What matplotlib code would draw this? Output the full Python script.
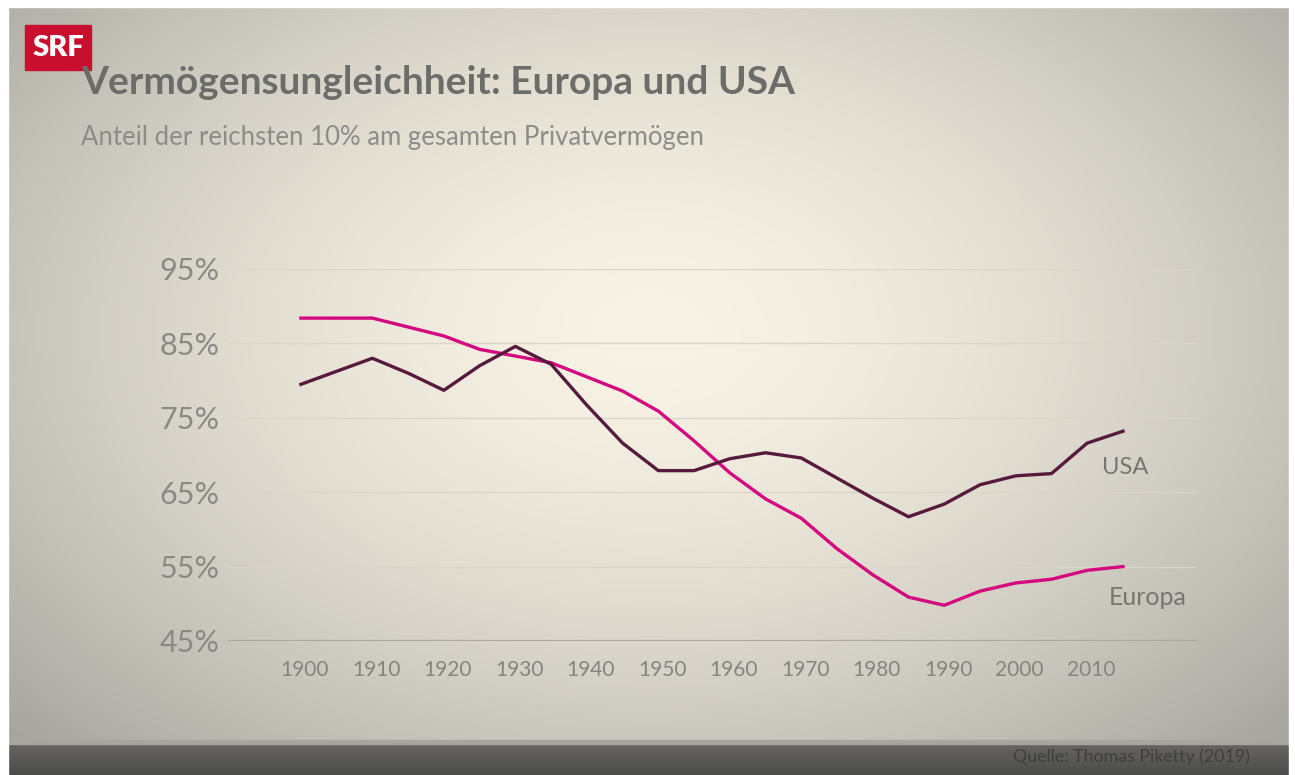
import numpy as np
import matplotlib
matplotlib.use("Agg")
import matplotlib.pyplot as plt
from matplotlib.patches import Rectangle
from matplotlib.transforms import ScaledTranslation

# ---- data ----
years = [1900, 1910, 1915, 1920, 1925, 1930, 1935, 1940, 1945, 1950, 1955, 1960,
         1965, 1970, 1975, 1980, 1985, 1990, 1995, 2000, 2005, 2010, 2015]
usa = [79.5, 83.0, 81.0, 78.7, 82.0, 84.6, 82.2, 76.7, 71.6, 67.9, 67.9, 69.5,
       70.3, 69.6, 66.9, 64.2, 61.7, 63.4, 66.0, 67.2, 67.5, 71.6, 73.2]
europa = [88.4, 88.4, 87.2, 86.0, 84.2, 83.3, 82.4, 80.5, 78.6, 75.9, 71.9, 67.6,
          64.1, 61.5, 57.4, 53.9, 50.9, 49.8, 51.7, 52.8, 53.3, 54.5, 55.0]
yticks = [45, 55, 65, 75, 85, 95]
ytick_labels = ["45%", "55%", "65%", "75%", "85%", "95%"]
xticks = [1900, 1910, 1920, 1930, 1940, 1950, 1960, 1970, 1980, 1990, 2000, 2010]
xtick_labels = [str(x) for x in xticks]

title = "Vermögensungleichheit: Europa und USA"
subtitle = "Anteil der reichsten 10% am gesamten Privatvermögen"
source = "Quelle: Thomas Piketty (2019)"

W, H = 1295, 775
fig = plt.figure(figsize=(W / 100, H / 100), dpi=100)

FONT = ["Lato", "DejaVu Sans"]

# ---- background radial gradient ----
bg = fig.add_axes([0, 0, 1, 1])
bg.set_xlim(0, W)
bg.set_ylim(H, 0)
bg.axis("off")
yy, xx = np.mgrid[0:H, 0:W]
d = np.sqrt(((xx - 650) / 780.0) ** 2 + ((yy - 330) / 520.0) ** 2)
t = np.clip(d, 0, 1.25) / 1.25
t = t ** 1.6
c0 = np.array([0xf8, 0xf3, 0xe5]) / 255.0
c1 = np.array([0x98, 0x97, 0x92]) / 255.0
img = c0[None, None, :] * (1 - t[..., None]) + c1[None, None, :] * t[..., None]
bg.imshow(img, extent=[0, W, H, 0], aspect="auto", zorder=0)

# bottom bar
bar = np.linspace(0, 1, 31)[:, None, None]
top_c = np.array([0x66, 0x65, 0x62]) / 255.0
bot_c = np.array([0x4c, 0x4c, 0x4a]) / 255.0
bar_img = top_c * (1 - bar) + bot_c * bar
bar_img = np.repeat(bar_img, 2, axis=1)
bg.imshow(bar_img, extent=[8, W, 775, 744], aspect="auto", zorder=1)
bg.add_patch(Rectangle((8, 740), W, 4, color="#a6a5a0", zorder=1))
# white screenshot borders
bg.add_patch(Rectangle((0, 0), W, 7, color="white", zorder=2))
bg.add_patch(Rectangle((0, 0), 8, H, color="white", zorder=2))
bg.add_patch(Rectangle((1289, 0), 10, H, color="white", zorder=2))
bg.set_xlim(0, W)
bg.set_ylim(H, 0)

# SRF logo
bg.add_patch(Rectangle((25, 25), 66, 45, color="#c8102e", zorder=3))
bg.text(58, 48, "SRF", color="white", fontsize=21, fontweight="heavy",
        ha="center", va="center", family=FONT, zorder=4)

bg.text(81, 83, title, color="#6c6c69", fontsize=28, fontweight="bold",
        ha="left", va="center", family=FONT)
bg.text(81, 138, subtitle, color="#8d8c88", fontsize=18.5,
        ha="left", va="center", family=FONT)
bg.text(1250, 757, source, color="#3f3f3d", fontsize=12.8,
        ha="right", va="center", family=FONT)

# ---- chart ----
left = 228 / W
right = 1198 / W
bottom = 1 - 641 / H
top = 1 - 269 / H
ax = fig.add_axes([left, bottom, right - left, top - bottom])
ax.patch.set_alpha(0)
ax.set_xlim(1889.8, 2025.5)
ax.set_ylim(45, 95)
for s in ax.spines.values():
    s.set_visible(False)
ax.set_yticks(yticks)
ax.set_yticklabels(ytick_labels)
ax.set_xticks(xticks)
ax.set_xticklabels(xtick_labels)
ax.tick_params(axis="y", length=0, pad=6, labelsize=22, labelcolor="#8a8985")
ax.tick_params(axis="x", length=0, pad=14, labelsize=15, labelcolor="#858480")
shift = ScaledTranslation(4 / 100, 0, fig.dpi_scale_trans)
for lab in ax.get_xticklabels():
    lab.set_transform(lab.get_transform() + shift)
for lab in ax.get_yticklabels() + ax.get_xticklabels():
    lab.set_family(FONT)
for yv in yticks:
    ax.axhline(yv, color="#aaa8a0" if yv == 45 else "#d9d5c9",
               lw=1.6 if yv == 45 else 1.0, zorder=1)

ax.plot(years, europa, color="#d4087f", lw=2.4, zorder=3, clip_on=False,
        solid_joinstyle="round")
ax.plot(years, usa, color="#561a3c", lw=2.4, zorder=4, clip_on=False,
        solid_joinstyle="round")

ax.text(2015.3, 68.3, "USA", color="#76756f", fontsize=17, ha="center",
        va="center", family=FONT)
ax.text(2018.4, 50.9, "Europa", color="#76756f", fontsize=18, ha="center",
        va="center", family=FONT)

fig.savefig("out.png", dpi=100)
